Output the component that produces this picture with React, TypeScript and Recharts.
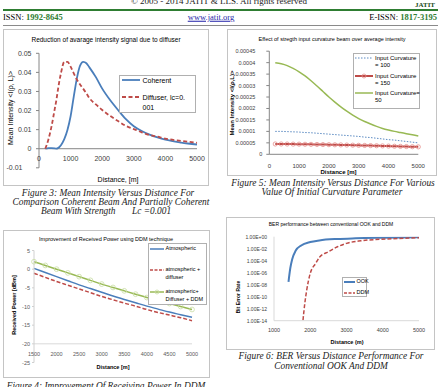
import React from 'react';
import { LineChart, Line, XAxis, YAxis, ReferenceLine } from 'recharts';

const SANS = "'Liberation Sans', Arial, sans-serif";
const SERIF = "'Liberation Serif', 'Times New Roman', serif";

// ---------- Figure 3 ----------
const fig3Distance = [200, 300, 400, 500, 550, 600, 700, 800, 900, 1000, 1100, 1200, 1300, 1400, 1500, 1600, 1800, 2000, 2250, 2500, 2750, 3000, 3250, 3500, 3750, 4000, 4500, 5000];
const fig3Coherent = [0, 0.0003, 0.0003, 0.0002, 0, 0.0003, 0.002, 0.005, 0.0098, 0.017, 0.0273, 0.037, 0.0435, 0.0455, 0.0448, 0.0425, 0.0375, 0.0315, 0.0255, 0.0203, 0.0155, 0.0118, 0.0093, 0.0074, 0.0059, 0.0047, 0.0032, 0.0022];
const fig3Diffuser = [0, 0.005, 0.012, 0.021, 0.0255, 0.031, 0.04, 0.0455, 0.0455, 0.043, 0.0395, 0.0362, 0.0337, 0.0314, 0.029, 0.0264, 0.0232, 0.0203, 0.0172, 0.0145, 0.012, 0.0103, 0.0086, 0.0072, 0.0063, 0.0053, 0.0041, 0.0031];
const fig3XTicks = [0, 1000, 2000, 3000, 4000, 5000];
const fig3YTicks = [-0.01, 0, 0.01, 0.02, 0.03, 0.04, 0.05];

// ---------- Figure 5 ----------
const fig5Distance = [200, 400, 600, 800, 1000, 1200, 1400, 1600, 1800, 2000, 2200, 2400, 2600, 2800, 3000, 3200, 3400, 3600, 3800, 4000, 4200, 4400, 4600, 4800, 5000];
const fig5Curv100 = [0.0001, 0.0001, 0.000099, 0.000098, 0.000097, 0.000095, 0.000094, 0.000092, 0.00009, 0.000088, 0.000086, 0.000084, 0.000082, 0.00008, 0.000078, 0.000075, 0.000073, 0.00007, 0.000067, 0.000064, 0.000062, 0.000059, 0.000056, 0.000053, 0.00005];
const fig5Curv150 = [0.000045, 0.000045, 0.0000448, 0.0000445, 0.0000442, 0.0000438, 0.0000434, 0.000043, 0.0000425, 0.000042, 0.0000415, 0.000041, 0.0000404, 0.0000398, 0.0000392, 0.0000386, 0.000038, 0.0000373, 0.0000366, 0.0000359, 0.0000352, 0.0000345, 0.0000338, 0.0000331, 0.0000325];
const fig5Curv50 = [0.0004, 0.000395, 0.000387, 0.000375, 0.00036, 0.000342, 0.000321, 0.000298, 0.000274, 0.00025, 0.000228, 0.000207, 0.000188, 0.000171, 0.000156, 0.000143, 0.000132, 0.000122, 0.000113, 0.000106, 0.0001, 0.000095, 0.00009, 0.000085, 0.00008];
const fig5XTicks = [0, 1000, 2000, 3000, 4000, 5000];
const fig5YTicks = [0, 0.00005, 0.0001, 0.00015, 0.0002, 0.00025, 0.0003, 0.00035, 0.0004, 0.00045];

// ---------- Figure 4 ----------
const fig4Distance = [1500, 1750, 2000, 2250, 2500, 2750, 3000, 3250, 3500, 3750, 4000, 4250, 4500, 4750, 5000];
const fig4Atmospheric = [0.2, -0.9, -2.0, -3.1, -4.2, -5.2, -6.2, -7.2, -8.1, -9.0, -9.9, -10.7, -11.5, -12.2, -12.9];
const fig4AtmDiffuser = [-1.1, -2.2, -3.3, -4.3, -5.3, -6.3, -7.3, -8.2, -9.1, -9.9, -10.8, -11.6, -12.3, -13.0, -13.8];
const fig4AtmDiffDDM = [2.0, 1.0, 0.0, -1.0, -2.0, -3.0, -4.0, -4.9, -5.8, -6.7, -7.6, -8.4, -9.2, -10.0, -10.8];
const fig4XTicks = [1500, 2000, 2500, 3000, 3500, 4000, 4500, 5000];
const fig4YTicks = [-25, -20, -15, -10, -5, 0, 5];

// ---------- Figure 6 ----------
const fig6OokDistance = [1400, 1450, 1500, 1600, 1750, 2000, 2250, 2750, 3250, 4000, 5000];
const fig6OokBer = [3e-8, 6e-6, 1.6e-4, 5e-3, 0.035, 0.13, 0.24, 0.42, 0.54, 0.66, 0.78];
const fig6DdmDistance = [1800, 1850, 1900, 2000, 2150, 2250, 2500, 2750, 3000, 3400, 4100, 5000];
const fig6DdmBer = [1.2e-14, 8e-12, 1e-9, 8e-7, 3.5e-5, 3.5e-4, 3.2e-3, 0.021, 0.078, 0.21, 0.41, 0.68];
const fig6XTicks = [1000, 2000, 3000, 4000, 5000];
const fig6YTicks = [1e-14, 1e-12, 1e-10, 1e-8, 1e-6, 1e-4, 1e-2, 1];

const fig3Data = fig3Distance.map((d, i) => ({ d, coherent: fig3Coherent[i], diffuser: fig3Diffuser[i] }));
const fig5Data = fig5Distance.map((d, i) => ({ d, c100: fig5Curv100[i], c150: fig5Curv150[i], c50: fig5Curv50[i] }));
const fig4Data = fig4Distance.map((d, i) => ({ d, atm: fig4Atmospheric[i], atmDiff: fig4AtmDiffuser[i], ddm: fig4AtmDiffDDM[i] }));
const fig6AllD = Array.from(new Set([...fig6OokDistance, ...fig6DdmDistance])).sort((a, b) => a - b);
const fig6Data = fig6AllD.map((d) => {
  const io = fig6OokDistance.indexOf(d);
  const id = fig6DdmDistance.indexOf(d);
  return { d, ook: io >= 0 ? fig6OokBer[io] : null, ddm: id >= 0 ? fig6DdmBer[id] : null };
});

const fmtSci = (v: number) => {
  const e = Math.round(Math.log10(v));
  return `1.00E${e < 0 ? '-' : '+'}${String(Math.abs(e)).padStart(2, '0')}`;
};

const mkXTick = (dy: number, size: number, fill = '#404040') => (props: any) => {
  const { x, y, payload } = props;
  return (
    <text x={x} y={y + dy} textAnchor="middle" dominantBaseline="central" fontSize={size} fontFamily={SANS} fill={fill}>
      {String(payload.value)}
    </text>
  );
};

const mkYTick = (size: number, fmt: (v: number) => string, shift: (v: number) => number = () => 0, fill = '#404040') => (props: any) => {
  const { x, y, payload } = props;
  return (
    <text x={x + shift(payload.value)} y={y} textAnchor="end" dominantBaseline="central" fontSize={size} fontFamily={SANS} fill={fill}>
      {fmt(payload.value)}
    </text>
  );
};

type TxtProps = {
  x: number; y: number; size: number; children: React.ReactNode; weight?: any; italic?: boolean;
  color?: string; family?: string; anchor?: 'start' | 'middle' | 'end'; rotate?: boolean; underline?: boolean; lh?: number;
};
function Txt({ x, y, size, children, weight = 'normal', italic = false, color = '#000', family = SANS, anchor = 'middle', rotate = false, underline = false, lh = 1 }: TxtProps) {
  const tx = anchor === 'middle' ? '-50%' : anchor === 'end' ? '-100%' : '0';
  const transform = rotate ? 'translate(-50%,-50%) rotate(-90deg)' : `translate(${tx},-50%)`;
  return (
    <div style={{ position: 'absolute', left: x, top: y, transform, fontSize: size, fontFamily: family, fontWeight: weight, fontStyle: italic ? 'italic' : 'normal', color, whiteSpace: 'pre', lineHeight: lh, textDecoration: underline ? 'underline' : 'none' }}>
      {children}
    </div>
  );
}

function Cap({ x, y, children }: { x: number; y: number; children: React.ReactNode }) {
  return <Txt x={x} y={y} size={9.4} family={SERIF} italic color="#222" lh={0.88}>{children}</Txt>;
}

function Box({ l, t, r, b, color = '#c4c4c4', bg = 'transparent' }: { l: number; t: number; r: number; b: number; color?: string; bg?: string }) {
  return <div style={{ position: 'absolute', left: l, top: t, width: r - l, height: b - t, border: `1px solid ${color}`, boxSizing: 'border-box', background: bg }} />;
}

function Sample({ x1, x2, y, color, width = 1.5, dash, marker }: { x1: number; x2: number; y: number; color: string; width?: number; dash?: string; marker?: string }) {
  return (
    <svg style={{ position: 'absolute', left: x1, top: y - 4 }} width={x2 - x1} height={8}>
      <line x1={0} x2={x2 - x1} y1={4} y2={4} stroke={color} strokeWidth={width} strokeDasharray={dash} />
      {marker && <circle cx={(x2 - x1) / 2} cy={4} r={2} fill="none" stroke={marker} strokeWidth={0.8} />}
    </svg>
  );
}

const BLUE = '#4A7EBB';
const RED = '#BE4B48';
const GREEN = '#98B954';
const AXIS = '#868686';

export default function App() {
  return (
    <div style={{ position: 'absolute', left: 0, top: 0, width: 441, height: 387, overflow: 'hidden', background: '#fff' }}>
      {/* Header */}
      <Txt x={219} y={1} size={9} family={SERIF} color="#222">© 2005 - 2014 JATIT &amp; LLS. All rights reserved</Txt>
      <Txt x={425} y={5} size={7} family={SERIF} weight="bold" color="#1d4d1d">JATIT</Txt>
      <div style={{ position: 'absolute', left: 3, top: 9, width: 435, height: 1.5, background: '#2e7d32' }} />
      <Txt x={3} y={17} size={8.5} family={SERIF} anchor="start">ISSN: <span style={{ color: '#2e7d32', fontWeight: 'bold' }}>1992-8645</span></Txt>
      <Txt x={211} y={17} size={8.5} family={SERIF} color="#1f1fa8" underline>www.jatit.org</Txt>
      <Txt x={437} y={17} size={8.5} family={SERIF} anchor="end">E-ISSN: <span style={{ color: '#2e7d32', fontWeight: 'bold' }}>1817-3195</span></Txt>
      <div style={{ position: 'absolute', left: 3, top: 25, width: 435, height: 1, background: '#8a8a8a' }} />

      {/* ---------- Figure 3 ---------- */}
      <Box l={3} t={29} r={209} b={186} />
      <div style={{ position: 'absolute', left: 3, top: 29 }}>
        <LineChart width={206} height={157} data={fig3Data} margin={{ top: 24.3, right: 12, left: 0, bottom: 0 }}>
          <XAxis dataKey="d" type="number" domain={[0, 5000]} ticks={fig3XTicks} interval={0} height={18.2} axisLine={false} tickLine={false} tickSize={0} tickMargin={0} tick={mkXTick(-9.8, 7)} />
          <YAxis type="number" domain={[-0.01, 0.05]} ticks={fig3YTicks} interval={0} width={36} axisLine={{ stroke: AXIS }} tickLine={{ stroke: AXIS }} tickSize={3} tickMargin={4.5} tick={mkYTick(7, (v) => String(v), (v) => (v < 0 ? -9 : 0))} />
          <ReferenceLine y={0} stroke={AXIS} />
          <Line dataKey="coherent" type="monotone" stroke={BLUE} strokeWidth={1.8} dot={false} isAnimationActive={false} />
          <Line dataKey="diffuser" type="monotone" stroke={RED} strokeWidth={1.8} strokeDasharray="4 2.5" dot={false} isAnimationActive={false} />
        </LineChart>
      </div>
      <Txt x={106} y={40} size={6.5}>Reduction of avarage intensity signal due to diffuser</Txt>
      <Txt x={10} y={108} size={7} rotate>Mean Intensity &lt;I(ρ, L)&gt;</Txt>
      <Txt x={118} y={179} size={7}>Distance, [m]</Txt>
      <Box l={119} t={75} r={196} b={113} color="#b0b0b0" bg="#fff" />
      <Sample x1={122} x2={140} y={80} color={BLUE} width={1.8} />
      <Txt x={142.5} y={80} size={7} anchor="start">Coherent</Txt>
      <Sample x1={122} x2={140} y={96.7} color={RED} width={1.8} dash="4 2.5" />
      <Txt x={142.5} y={96.7} size={7} anchor="start">Diffuser, lc=0.</Txt>
      <Txt x={142.5} y={106.5} size={7} anchor="start">001</Txt>

      <Cap x={108} y={193.3}>Figure 3: Mean Intensity Versus Distance For</Cap>
      <Cap x={111} y={202}>Comparison Coherent Beam And Partially Coherent</Cap>
      <Cap x={106} y={210.7}>Beam With Strength       Lc =0.001</Cap>

      {/* ---------- Figure 5 ---------- */}
      <Box l={227} t={29} r={437} b={176} />
      <div style={{ position: 'absolute', left: 227, top: 29 }}>
        <LineChart width={210} height={147} data={fig5Data} margin={{ top: 22.2, right: 18.7, left: 0, bottom: 0 }}>
          <XAxis dataKey="d" type="number" domain={[0, 5000]} ticks={fig5XTicks} interval={0} height={21.7} axisLine={{ stroke: AXIS }} tickLine={false} tickSize={0} tickMargin={0} tick={mkXTick(12, 6)} />
          <YAxis type="number" domain={[0, 0.00045]} ticks={fig5YTicks} interval={0} width={42.3} axisLine={{ stroke: AXIS }} tickLine={{ stroke: AXIS }} tickSize={3} tickMargin={11} tick={mkYTick(5.5, (v) => String(v), (v) => (v === 0 ? 7 : 0))} />
          <Line dataKey="c100" type="monotone" stroke={BLUE} strokeWidth={0.9} strokeDasharray="1.5 1.5" dot={false} isAnimationActive={false} />
          <Line dataKey="c150" type="monotone" stroke={RED} strokeWidth={2} dot={{ r: 2.1, stroke: '#E6908E', strokeWidth: 0.8, fill: 'none' }} isAnimationActive={false} />
          <Line dataKey="c50" type="monotone" stroke={GREEN} strokeWidth={1.5} dot={false} isAnimationActive={false} />
        </LineChart>
      </div>
      <Txt x={332} y={40} size={5.5}>Effect of stregth input curvature beam over average intensity</Txt>
      <Txt x={232} y={103} size={6} weight="bold" rotate>Mean Intensity &lt;I(ρ,L)&gt;</Txt>
      <Txt x={338.5} y={171.8} size={6} weight="bold">Distance [m]</Txt>
      <Box l={353} t={53} r={420} b={109} color="#b0b0b0" bg="#fff" />
      <Sample x1={355} x2={373} y={58} color={BLUE} width={0.9} dash="1.5 1.5" />
      <Txt x={375} y={58} size={6} anchor="start">Input Curvature</Txt>
      <Txt x={375} y={65} size={6} anchor="start">= 100</Txt>
      <Sample x1={355} x2={373} y={76} color={RED} width={2} marker="#E6908E" />
      <Txt x={375} y={76} size={6} anchor="start">Input Curvature</Txt>
      <Txt x={375} y={83} size={6} anchor="start">= 150</Txt>
      <Sample x1={355} x2={373} y={93} color={GREEN} width={1.5} />
      <Txt x={375} y={93} size={6} anchor="start">Input Curvature=</Txt>
      <Txt x={375} y={100} size={6} anchor="start">50</Txt>

      <Cap x={333} y={183}>Figure 5: Mean Intensity Versus Distance For Various</Cap>
      <Cap x={332} y={192}>Value Of Initial Curvature Parameter</Cap>

      {/* ---------- Figure 4 ---------- */}
      <Box l={3} t={230} r={210} b={378} />
      <div style={{ position: 'absolute', left: 3, top: 230 }}>
        <LineChart width={207} height={148} data={fig4Data} margin={{ top: 20.5, right: 18, left: 0, bottom: 0 }}>
          <XAxis dataKey="d" type="number" domain={[1500, 5000]} ticks={fig4XTicks} interval={0} height={15.5} axisLine={false} tickLine={false} tickSize={0} tickMargin={0} tick={mkXTick(-8.5, 5.5, '#595959')} />
          <YAxis type="number" domain={[-25, 5]} ticks={fig4YTicks} interval={0} width={31} axisLine={{ stroke: '#d0d0d0' }} tickLine={{ stroke: '#d0d0d0' }} tickSize={2} tickMargin={2} tick={mkYTick(5.5, (v) => String(v), () => 0, '#595959')} />
          <ReferenceLine y={-20} stroke="#d9d9d9" />
          <Line dataKey="atm" type="monotone" stroke={BLUE} strokeWidth={1.5} dot={false} isAnimationActive={false} />
          <Line dataKey="atmDiff" type="monotone" stroke={RED} strokeWidth={1.5} strokeDasharray="4 2" dot={false} isAnimationActive={false} />
          <Line dataKey="ddm" type="monotone" stroke={GREEN} strokeWidth={1.5} dot={{ r: 2.4, stroke: '#C9DDA4', strokeWidth: 0.8, fill: 'none' }} isAnimationActive={false} />
        </LineChart>
      </div>
      <Txt x={106} y={240} size={5.5}>Improvement of Received Power using DDM technique</Txt>
      <Txt x={15} y={305} size={5.5} weight="bold" rotate>Received Power [dBm]</Txt>
      <Txt x={113} y={368} size={5.5} weight="bold">Distance [m]</Txt>
      <Box l={148} t={243} r={207} b={305} color="#b0b0b0" bg="#fff" />
      <Sample x1={150} x2={164} y={249.3} color={BLUE} width={1.5} />
      <Txt x={165.5} y={249.3} size={5.5} anchor="start">Atmospheric</Txt>
      <Sample x1={150} x2={164} y={270} color={RED} width={1.5} dash="3 1.5" />
      <Txt x={165.5} y={270} size={5.5} anchor="start">atmospheric +</Txt>
      <Txt x={165.5} y={278} size={5.5} anchor="start">diffuser</Txt>
      <Sample x1={150} x2={164} y={292} color={GREEN} width={1.5} marker="#C9DDA4" />
      <Txt x={165.5} y={292} size={5.5} anchor="start">atmospheric+</Txt>
      <Txt x={165.5} y={300} size={5.5} anchor="start">Diffuser + DDM</Txt>

      <Cap x={106} y={386}>Figure 4: Improvement Of Receiving Power In DDM</Cap>

      {/* ---------- Figure 6 ---------- */}
      <Box l={226} t={217} r={435} b={350} />
      <div style={{ position: 'absolute', left: 226, top: 217 }}>
        <LineChart width={209} height={133} data={fig6Data} margin={{ top: 19.7, right: 16, left: 0, bottom: 0 }}>
          <XAxis dataKey="d" type="number" domain={[1000, 5000]} ticks={fig6XTicks} interval={0} height={29.3} axisLine={{ stroke: '#d9d9d9' }} tickLine={false} tickSize={0} tickMargin={0} tick={mkXTick(9.3, 5.5, '#404040')} />
          <YAxis type="number" scale="log" domain={[1e-14, 1]} allowDataOverflow ticks={fig6YTicks} interval={0} width={48} axisLine={{ stroke: '#d9d9d9' }} tickLine={false} tickSize={0} tickMargin={7} tick={mkYTick(5, fmtSci, () => 0, '#404040')} />
          <Line dataKey="ook" type="monotone" connectNulls stroke={BLUE} strokeWidth={2} dot={false} isAnimationActive={false} />
          <Line dataKey="ddm" type="monotone" connectNulls stroke={RED} strokeWidth={1.5} strokeDasharray="4 2" dot={false} isAnimationActive={false} />
        </LineChart>
      </div>
      <Txt x={331} y={224.3} size={5}>BER performance between conventional OOK and DDM</Txt>
      <Txt x={238} y={297} size={5} weight="bold" rotate>Bit Error Rate</Txt>
      <Txt x={347} y={343} size={5.5} weight="bold">Distance (m)</Txt>
      <Box l={341.7} t={276.7} r={367} b={297.3} color="#b0b0b0" bg="#fff" />
      <Sample x1={344} x2={355} y={281.5} color={BLUE} width={2} />
      <Txt x={356.5} y={281.5} size={5.5} anchor="start">OOK</Txt>
      <Sample x1={344} x2={355} y={292.5} color={RED} width={1.5} dash="3 1.5" />
      <Txt x={356.5} y={292.5} size={5.5} anchor="start">DDM</Txt>

      <Cap x={331} y={356}>Figure 6: BER Versus Distance Performance For</Cap>
      <Cap x={331} y={366}>Conventional OOK And DDM</Cap>
    </div>
  );
}
